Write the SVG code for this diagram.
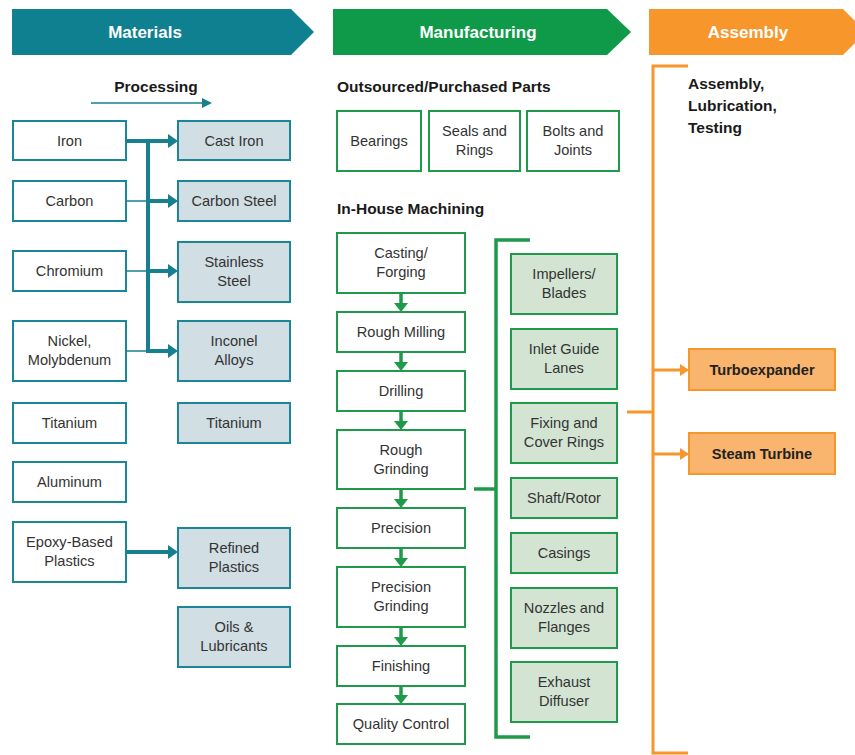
<svg xmlns="http://www.w3.org/2000/svg" width="855" height="755" viewBox="0 0 855 755">
<style>
text{font-family:"Liberation Sans",Arial,sans-serif;}
.bt{font-size:14.6px;fill:#333;text-anchor:middle;}
.hd{font-size:17px;font-weight:bold;fill:#fff;text-anchor:middle;}
.sh{font-size:15.5px;font-weight:bold;fill:#1a1a1a;}
.ow{fill:#fff;stroke:#1a8696;stroke-width:2;}
.of{fill:#d1dee4;stroke:#1a8696;stroke-width:2;}
.gw{fill:#fff;stroke:#1f9a4b;stroke-width:2;}
.gf{fill:#d3e4d3;stroke:#1f9a4b;stroke-width:2;}
.yf{fill:#f9b46e;stroke:#f7962a;stroke-width:2;}
.tk{stroke:#16808f;stroke-width:4;fill:none;}
.tn{stroke:#16808f;stroke-width:1.5;fill:none;}
.gl{stroke:#1f9a4b;stroke-width:3.5;fill:none;}
.ol{stroke:#f7962a;stroke-width:3;fill:none;}
.ah-t{fill:#16808f;}
.ah-g{fill:#1f9a4b;}
.ah-o{fill:#f7962a;}
</style>
<defs>
<marker id="mt" markerUnits="userSpaceOnUse" markerWidth="12" markerHeight="16" viewBox="0 -8 10 16" refX="0" refY="0" orient="auto"><path class="ah-t" d="M0,-7 L10,0 L0,7 z"/></marker>
<marker id="mts" markerUnits="userSpaceOnUse" markerWidth="12" markerHeight="12" viewBox="0 -6 10 12" refX="0" refY="0" orient="auto"><path class="ah-t" d="M0,-5 L10,0 L0,5 z"/></marker>
<marker id="mg" markerUnits="userSpaceOnUse" markerWidth="10" markerHeight="16" viewBox="0 -8 9 16" refX="0" refY="0" orient="auto"><path class="ah-g" d="M0,-7 L9,0 L0,7 z"/></marker>
<marker id="mo" markerUnits="userSpaceOnUse" markerWidth="10" markerHeight="14" viewBox="0 -7 9 14" refX="0" refY="0" orient="auto"><path class="ah-o" d="M0,-6 L9,0 L0,6 z"/></marker>
</defs>

<g id="headers">
<path d="M12,9 H291 L314,32 L291,55 H12 z" fill="#0e8090"/>
<text class="hd" x="145" y="38">Materials</text>
<path d="M333,9 H607 L631,32 L607,55 H333 z" fill="#0e9a48"/>
<text class="hd" x="478" y="38">Manufacturing</text>
<path d="M649,9 H843 L866,32 L843,55 H649 z" fill="#f7962a"/>
<text class="hd" x="748" y="38">Assembly</text>
</g>

<g id="section-labels">
<text class="sh" x="156" y="92" text-anchor="middle">Processing</text>
<text class="sh" x="337" y="92">Outsourced/Purchased Parts</text>
<text class="sh" x="337" y="214">In-House Machining</text>
<text class="sh" x="688" y="89">Assembly,</text>
<text class="sh" x="688" y="111">Lubrication,</text>
<text class="sh" x="688" y="133">Testing</text>
</g>

<g id="n-iron"><rect class="ow" x="13" y="121" width="113" height="39"/><text class="bt" x="69.5" y="145.5">Iron</text></g>
<g id="n-carbon"><rect class="ow" x="13" y="181" width="113" height="40"/><text class="bt" x="69.5" y="206">Carbon</text></g>
<g id="n-chromium"><rect class="ow" x="13" y="251" width="113" height="40"/><text class="bt" x="69.5" y="276">Chromium</text></g>
<g id="n-nickel"><rect class="ow" x="13" y="321" width="113" height="60"/><text class="bt" x="69.5" y="346">Nickel,</text><text class="bt" x="69.5" y="365">Molybdenum</text></g>
<g id="n-titanium"><rect class="ow" x="13" y="403" width="113" height="40"/><text class="bt" x="69.5" y="428">Titanium</text></g>
<g id="n-aluminum"><rect class="ow" x="13" y="462" width="113" height="40"/><text class="bt" x="69.5" y="487">Aluminum</text></g>
<g id="n-epoxy"><rect class="ow" x="13" y="522" width="113" height="60"/><text class="bt" x="69.5" y="547">Epoxy-Based</text><text class="bt" x="69.5" y="566">Plastics</text></g>

<g id="n-castiron"><rect class="of" x="178" y="121" width="112" height="39"/><text class="bt" x="234" y="145.5">Cast Iron</text></g>
<g id="n-carbonsteel"><rect class="of" x="178" y="181" width="112" height="40"/><text class="bt" x="234" y="206">Carbon Steel</text></g>
<g id="n-stainless"><rect class="of" x="178" y="242" width="112" height="60"/><text class="bt" x="234" y="267">Stainless</text><text class="bt" x="234" y="286">Steel</text></g>
<g id="n-inconel"><rect class="of" x="178" y="321" width="112" height="60"/><text class="bt" x="234" y="346">Inconel</text><text class="bt" x="234" y="365">Alloys</text></g>
<g id="n-titanium2"><rect class="of" x="178" y="403" width="112" height="40"/><text class="bt" x="234" y="428">Titanium</text></g>
<g id="n-refined"><rect class="of" x="178" y="528" width="112" height="60"/><text class="bt" x="234" y="553">Refined</text><text class="bt" x="234" y="572">Plastics</text></g>
<g id="n-oils"><rect class="of" x="178" y="607" width="112" height="60"/><text class="bt" x="234" y="632">Oils &amp;</text><text class="bt" x="234" y="651">Lubricants</text></g>

<g id="n-bearings"><rect class="gw" x="337" y="111" width="84" height="60"/><text class="bt" x="379" y="146">Bearings</text></g>
<g id="n-seals"><rect class="gw" x="429" y="111" width="91" height="60"/><text class="bt" x="474.5" y="136">Seals and</text><text class="bt" x="474.5" y="155">Rings</text></g>
<g id="n-bolts"><rect class="gw" x="527" y="111" width="92" height="60"/><text class="bt" x="573" y="136">Bolts and</text><text class="bt" x="573" y="155">Joints</text></g>

<g id="n-casting"><rect class="gw" x="337" y="233" width="128" height="60"/><text class="bt" x="401" y="258">Casting/</text><text class="bt" x="401" y="277">Forging</text></g>
<g id="n-roughmilling"><rect class="gw" x="337" y="312" width="128" height="40"/><text class="bt" x="401" y="337">Rough Milling</text></g>
<g id="n-drilling"><rect class="gw" x="337" y="371" width="128" height="40"/><text class="bt" x="401" y="396">Drilling</text></g>
<g id="n-roughgrinding"><rect class="gw" x="337" y="430" width="128" height="59"/><text class="bt" x="401" y="455">Rough</text><text class="bt" x="401" y="474">Grinding</text></g>
<g id="n-precision"><rect class="gw" x="337" y="508" width="128" height="40"/><text class="bt" x="401" y="533">Precision</text></g>
<g id="n-precisiongrinding"><rect class="gw" x="337" y="567" width="128" height="60"/><text class="bt" x="401" y="592">Precision</text><text class="bt" x="401" y="611">Grinding</text></g>
<g id="n-finishing"><rect class="gw" x="337" y="646" width="128" height="40"/><text class="bt" x="401" y="671">Finishing</text></g>
<g id="n-quality"><rect class="gw" x="337" y="704" width="128" height="40"/><text class="bt" x="401" y="729">Quality Control</text></g>

<g id="n-impellers"><rect class="gf" x="511" y="254" width="106" height="60"/><text class="bt" x="564" y="279">Impellers/</text><text class="bt" x="564" y="298">Blades</text></g>
<g id="n-inlet"><rect class="gf" x="511" y="329" width="106" height="60"/><text class="bt" x="564" y="354">Inlet Guide</text><text class="bt" x="564" y="373">Lanes</text></g>
<g id="n-fixing"><rect class="gf" x="511" y="403" width="106" height="60"/><text class="bt" x="564" y="428">Fixing and</text><text class="bt" x="564" y="447">Cover Rings</text></g>
<g id="n-shaft"><rect class="gf" x="511" y="478" width="106" height="40"/><text class="bt" x="564" y="503">Shaft/Rotor</text></g>
<g id="n-casings"><rect class="gf" x="511" y="533" width="106" height="40"/><text class="bt" x="564" y="558">Casings</text></g>
<g id="n-nozzles"><rect class="gf" x="511" y="588" width="106" height="60"/><text class="bt" x="564" y="613">Nozzles and</text><text class="bt" x="564" y="632">Flanges</text></g>
<g id="n-exhaust"><rect class="gf" x="511" y="662" width="106" height="60"/><text class="bt" x="564" y="687">Exhaust</text><text class="bt" x="564" y="706">Diffuser</text></g>

<g id="n-turboexpander"><rect class="yf" x="689" y="349" width="146" height="41"/><text class="bt" x="762" y="375" style="font-weight:bold;fill:#222">Turboexpander</text></g>
<g id="n-steamturbine"><rect class="yf" x="689" y="433" width="146" height="41"/><text class="bt" x="762" y="459" style="font-weight:bold;fill:#222">Steam Turbine</text></g>

<g id="connectors">
<line class="tn" x1="91" y1="103" x2="202" y2="103" marker-end="url(#mts)"/>
<line class="tk" x1="126" y1="141" x2="168" y2="141" marker-end="url(#mt)"/>
<line class="tk" x1="148" y1="139" x2="148" y2="353"/>
<line class="tn" x1="126" y1="201" x2="148" y2="201"/>
<line class="tn" x1="126" y1="271" x2="148" y2="271"/>
<line class="tn" x1="126" y1="351" x2="148" y2="351"/>
<line class="tk" x1="146" y1="201" x2="168" y2="201" marker-end="url(#mt)"/>
<line class="tk" x1="146" y1="271" x2="168" y2="271" marker-end="url(#mt)"/>
<line class="tk" x1="146" y1="351" x2="168" y2="351" marker-end="url(#mt)"/>
<line class="tk" x1="126" y1="552" x2="168" y2="552" marker-end="url(#mt)"/>

<line class="gl" x1="401" y1="293" x2="401" y2="303" marker-end="url(#mg)"/>
<line class="gl" x1="401" y1="352" x2="401" y2="362" marker-end="url(#mg)"/>
<line class="gl" x1="401" y1="411" x2="401" y2="421" marker-end="url(#mg)"/>
<line class="gl" x1="401" y1="489" x2="401" y2="499" marker-end="url(#mg)"/>
<line class="gl" x1="401" y1="548" x2="401" y2="558" marker-end="url(#mg)"/>
<line class="gl" x1="401" y1="627" x2="401" y2="637" marker-end="url(#mg)"/>
<line class="gl" x1="401" y1="686" x2="401" y2="695" marker-end="url(#mg)"/>
<path class="gl" d="M530,240 H496 V737 H530"/>
<line class="gl" x1="474" y1="489" x2="496" y2="489"/>

<path class="ol" d="M688,66 H653 V753 H688"/>
<line class="ol" x1="627" y1="412" x2="653" y2="412"/>
<line class="ol" x1="653" y1="370" x2="680" y2="370" marker-end="url(#mo)"/>
<line class="ol" x1="653" y1="454" x2="680" y2="454" marker-end="url(#mo)"/>
</g>
</svg>
